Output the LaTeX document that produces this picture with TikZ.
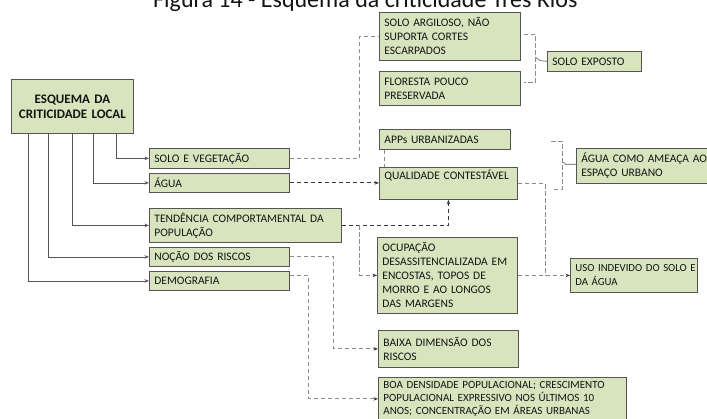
\documentclass[tikz,border=0pt]{standalone}
\usepackage{fontspec}
\setmainfont{Carlito}
\usetikzlibrary{arrows.meta,calc}
\definecolor{boxfill}{RGB}{215,228,189}
\definecolor{boxline}{RGB}{85,85,85}
\definecolor{dashgray}{RGB}{140,140,140}
\definecolor{dashdark}{RGB}{55,55,55}
\definecolor{txt}{RGB}{20,20,20}
\tikzset{
  bx/.style={draw=boxline, line width=0.8pt, fill=boxfill, anchor=north west,
    inner xsep=5pt, inner ysep=0pt, align=left, text=txt,
    font=\fontsize{11.5}{14}\selectfont},
  sol/.style={draw=boxline, line width=0.8pt, -{Stealth[length=4.5pt,width=3.5pt]}},
  dsh/.style={draw=dashgray, line width=0.9pt, dash pattern=on 4.5pt off 2.5pt},
  dshd/.style={draw=dashdark, line width=0.9pt, dash pattern=on 4.5pt off 2.5pt},
  arr/.style={-{Stealth[length=4.5pt,width=3.5pt,color=dashdark]}},
  tick/.style={draw=dashgray, line width=0.9pt},
}
\begin{document}
\begin{tikzpicture}[x=1pt,y=-1pt]
\useasboundingbox (0,0) rectangle (707,418);
\fill[white] (0,0) rectangle (707,418);

\node[anchor=base west, font=\fontsize{24}{28}\selectfont, text=txt, inner sep=0pt] (title) at (153,7) {Figura 14 - Esquema da criticidade Três Rios};

\node[bx, align=center, text width=112pt, minimum height=54pt, font=\bfseries\fontsize{13}{15}\selectfont] (esq) at (11,79) {ESQUEMA DA\\CRITICIDADE LOCAL};

\node[bx, text width=130pt, minimum height=20pt] (solo) at (149,148) {SOLO E VEGETAÇÃO};
\node[bx, text width=130pt, minimum height=19pt] (agua) at (149,173) {ÁGUA};
\node[bx, text width=182pt, minimum height=34pt] (tend) at (149,208) {\mbox{TENDÊNCIA COMPORTAMENTAL DA}\\POPULAÇÃO};
\node[bx, text width=130pt, minimum height=19pt] (noc) at (149,247) {NOÇÃO DOS RISCOS};
\node[bx, text width=130pt, minimum height=19pt] (demo) at (149,271) {DEMOGRAFIA};

\node[bx, text width=131pt, minimum height=48pt] (arg) at (379,12) {SOLO ARGILOSO, NÃO\\SUPORTA CORTES\\ESCARPADOS};
\node[bx, text width=131pt, minimum height=34pt] (flo) at (379,71) {FLORESTA POUCO\\PRESERVADA};
\node[bx, text width=84pt, minimum height=20pt] (exp) at (547,51) {SOLO EXPOSTO};

\node[bx, text width=121pt, minimum height=20pt] (apps) at (379,129) {APPs URBANIZADAS};
\node[bx, text width=128pt, text height=12.5pt, text depth=19.5pt] (qual) at (379,167) {QUALIDADE CONTESTÁVEL};
\node[bx, text width=130pt, minimum height=35pt] (agu2) at (576,148) {\mbox{ÁGUA COMO AMEAÇA AO}\\ESPAÇO URBANO};

\node[bx, text width=130pt, minimum height=76pt] (ocup) at (377,237) {OCUPAÇÃO\\\mbox{DESASSITENCIALIZADA EM}\\ENCOSTAS, TOPOS DE\\MORRO E AO LONGOS\\DAS MARGENS};
\node[bx, text width=117pt, minimum height=34pt, font=\fontsize{10.8}{14}\selectfont] (uso) at (570,258) {\mbox{USO INDEVIDO DO SOLO E}\\DA ÁGUA};

\node[bx, text width=130pt, minimum height=37pt] (baixa) at (378,330) {BAIXA DIMENSÃO DOS\\RISCOS};
\node[bx, text width=238pt, minimum height=43pt, font=\fontsize{11}{13}\selectfont] (boa) at (378,377) {\mbox{BOA DENSIDADE POPULACIONAL; CRESCIMENTO}\\\mbox{POPULACIONAL EXPRESSIVO NOS ÚLTIMOS 10}\\\mbox{ANOS; CONCENTRAÇÃO EM ÁREAS URBANAS}};

% solid connectors from the main box
\draw[sol] ([xshift=105pt]esq.south west) |- (solo.west);
\draw[sol] ([xshift=82pt]esq.south west) |- (agua.west);
\draw[sol] ([xshift=61pt]esq.south west) |- (tend.west);
\draw[sol] ([xshift=37pt]esq.south west) |- (noc.west);
\draw[sol] ([xshift=17pt]esq.south west) |- (demo.west);

% dashed connectors
\draw[dsh] (solo.east) -- ++(70,0) |- (arg.west);
\draw[dsh] ([xshift=3pt,yshift=2pt]arg.east) -- ++(12,0) -- ++(0,48) -- ++(-12,0);
\draw[tick] ([xshift=15pt,yshift=-21pt]arg.east) -- ++(4,3) -- (exp.west);

\draw[dsh] ([xshift=5pt]apps.south west) -- ([xshift=5pt]qual.north west);
\draw[dshd,arr] (agua.east) -- (agua.east -| qual.west);
\draw[dshd,arr] (tend.east) -| (qual.south);
\draw[dsh,arr] ([xshift=18pt]tend.east) |- (ocup.west);
\draw[dsh,arr] (ocup.east) -- (uso.west);
\draw[dsh] (qual.east) -| ([xshift=-25pt]uso.west);

\draw[dsh] ([xshift=-25pt,yshift=24.5pt]agu2.west) -- ++(11,0) -- ++(0,48) -- ++(-11,0);
\draw[tick] ([xshift=-14pt,yshift=4.5pt]agu2.west) -- ++(4,3) -- ([yshift=1.5pt]agu2.west);

\draw[dsh,arr] (noc.east) -- ++(44,0) |- (baixa.west);
\draw[dsh,arr] ([yshift=5pt]demo.east) -- ++(19,0) |- (boa.west);
\end{tikzpicture}
\end{document}
